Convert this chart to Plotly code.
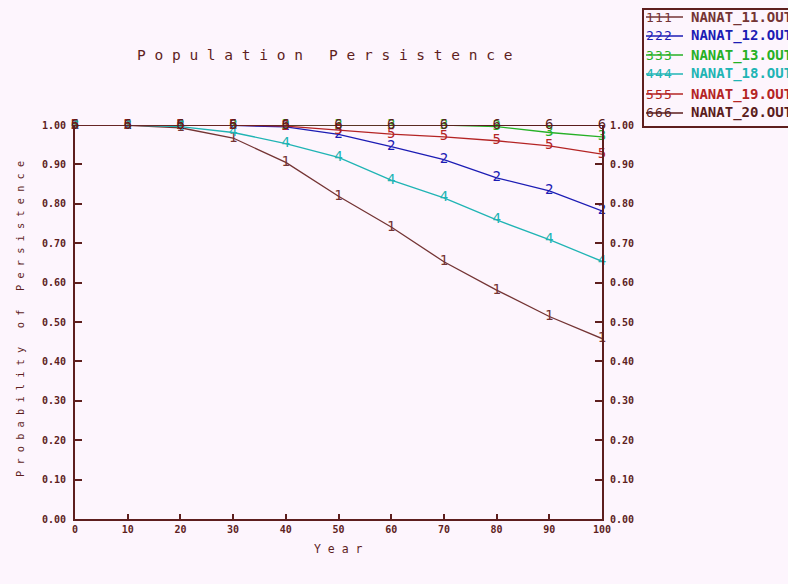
import plotly.graph_objects as go

# ---------------- data ----------------
years = [0, 10, 20, 30, 40, 50, 60, 70, 80, 90, 100]
series_names = ["NANAT_11.OUT", "NANAT_12.OUT", "NANAT_13.OUT",
                "NANAT_18.OUT", "NANAT_19.OUT", "NANAT_20.OUT"]
series_digits = ["1", "2", "3", "4", "5", "6"]
s1 = [1.000, 0.999, 0.993, 0.967, 0.905, 0.819, 0.741, 0.653, 0.581, 0.514, 0.458]
s2 = [1.000, 1.000, 1.000, 0.999, 0.995, 0.976, 0.945, 0.912, 0.866, 0.833, 0.782]
s3 = [1.000, 1.000, 1.000, 1.000, 1.000, 1.000, 1.000, 1.000, 0.996, 0.981, 0.970]
s4 = [1.000, 1.000, 0.996, 0.981, 0.953, 0.918, 0.860, 0.815, 0.759, 0.709, 0.654]
s5 = [1.000, 1.000, 1.000, 1.000, 0.997, 0.987, 0.977, 0.970, 0.960, 0.947, 0.926]
s6 = [1.000, 1.000, 1.000, 1.000, 1.000, 1.000, 1.000, 1.000, 1.000, 1.000, 0.999]
series_values = [s1, s2, s3, s4, s5, s6]
y_ticks = [0.0, 0.1, 0.2, 0.3, 0.4, 0.5, 0.6, 0.7, 0.8, 0.9, 1.0]
y_ticktext = ["0.00", "0.10", "0.20", "0.30", "0.40", "0.50",
              "0.60", "0.70", "0.80", "0.90", "1.00"]
x_ticktext = [str(v) for v in years]

# ---------------- style ----------------
colors = ["#743434", "#1c1cb4", "#26b026", "#20b4b4", "#b42424", "#5a1c1c"]
axis_color = "#5e1e1e"
bg = "#fdf5fd"
FONT = "DejaVu Sans Mono"

W, H = 788, 584
L, R, T, B = 75, 602, 125, 519


def px(x):
    return (x - L) / (R - L)


def py(y):
    return (B - y) / (B - T)


def spaced(s, n=1):
    return ("\u00a0" * n).join(s)


fig = go.Figure()
for vals, dig, col in zip(series_values, series_digits, colors):
    fig.add_trace(go.Scatter(
        x=years, y=vals, mode="lines+text",
        text=[dig] * len(years), textposition="middle center",
        textfont=dict(family=FONT, size=14, color=col),
        line=dict(color=col, width=1.3),
        cliponaxis=False, showlegend=False, hoverinfo="skip"))

# invisible trace to bring up the mirrored right axis
fig.add_trace(go.Scatter(x=[years[0]], y=[s6[0]], yaxis="y2", mode="markers",
                         marker=dict(opacity=0), showlegend=False, hoverinfo="skip"))

tickfont = dict(family=FONT, size=10, color=axis_color, weight="bold")

fig.update_layout(
    width=W, height=H,
    margin=dict(l=L, r=W - R, t=T, b=H - B),
    paper_bgcolor=bg, plot_bgcolor=bg,
    xaxis=dict(range=[0, 100], tickvals=years, ticktext=x_ticktext,
               showgrid=False, zeroline=False, showline=True,
               linecolor=axis_color, linewidth=2, ticks="inside",
               ticklen=5, tickwidth=2, tickcolor=axis_color, tickfont=tickfont),
    yaxis=dict(range=[0, 1], tickvals=y_ticks, ticktext=y_ticktext,
               showgrid=False, zeroline=False, showline=True,
               linecolor=axis_color, linewidth=2, ticks="inside",
               ticklen=7, tickwidth=2, tickcolor=axis_color, tickfont=tickfont,
               ticklabelstandoff=5),
    yaxis2=dict(range=[0, 1], tickvals=y_ticks, ticktext=y_ticktext,
                overlaying="y", side="right", anchor="x",
                showgrid=False, zeroline=False, showline=True,
                linecolor=axis_color, linewidth=2, ticks="inside",
                ticklen=7, tickwidth=2, tickcolor=axis_color, tickfont=tickfont,
                ticklabelstandoff=4),
)

ann = []
# title
ann.append(dict(x=px(324), y=py(55), xref="paper", yref="paper",
                text=spaced("Population", 1) + "\u00a0" * 3 + spaced("Persistence", 1),
                showarrow=False, xanchor="center", yanchor="middle",
                font=dict(family=FONT, size=14.5, color=axis_color)))
# y title
ann.append(dict(x=px(20), y=py(319), xref="paper", yref="paper",
                text=spaced("Probability") + "\u00a0" * 3 + spaced("of") + "\u00a0" * 3 + spaced("Persistence"),
                textangle=-90, showarrow=False, xanchor="center", yanchor="middle",
                font=dict(family=FONT, size=10.3, color=axis_color)))
# x title
ann.append(dict(x=px(338), y=py(549), xref="paper", yref="paper",
                text=spaced("Year"), showarrow=False, xanchor="center", yanchor="middle",
                font=dict(family=FONT, size=11.5, color=axis_color)))

shapes = []
# legend box (right side runs off the page)
shapes.append(dict(type="rect", xref="paper", yref="paper",
                   x0=px(643), x1=px(900), y0=py(9), y1=py(127),
                   line=dict(color=axis_color, width=2), fillcolor="rgba(0,0,0,0)"))
rows = [17, 36, 55, 74, 94, 113]
for name, dig, col, ry in zip(series_names, series_digits, colors, rows):
    shapes.append(dict(type="line", xref="paper", yref="paper",
                       x0=px(646), x1=px(683), y0=py(ry), y1=py(ry),
                       line=dict(color=col, width=1.5)))
    for dx in (650, 659, 668):
        ann.append(dict(x=px(dx), y=py(ry), xref="paper", yref="paper",
                        text=dig, showarrow=False, xanchor="center", yanchor="middle",
                        font=dict(family=FONT, size=13, color=col)))
    ann.append(dict(x=px(689), y=py(ry), xref="paper", yref="paper",
                    text=name, showarrow=False, xanchor="left", yanchor="middle",
                    font=dict(family=FONT, size=14, color=col, weight="bold")))

fig.update_layout(annotations=ann, shapes=shapes)
fig.write_html("out.html")
